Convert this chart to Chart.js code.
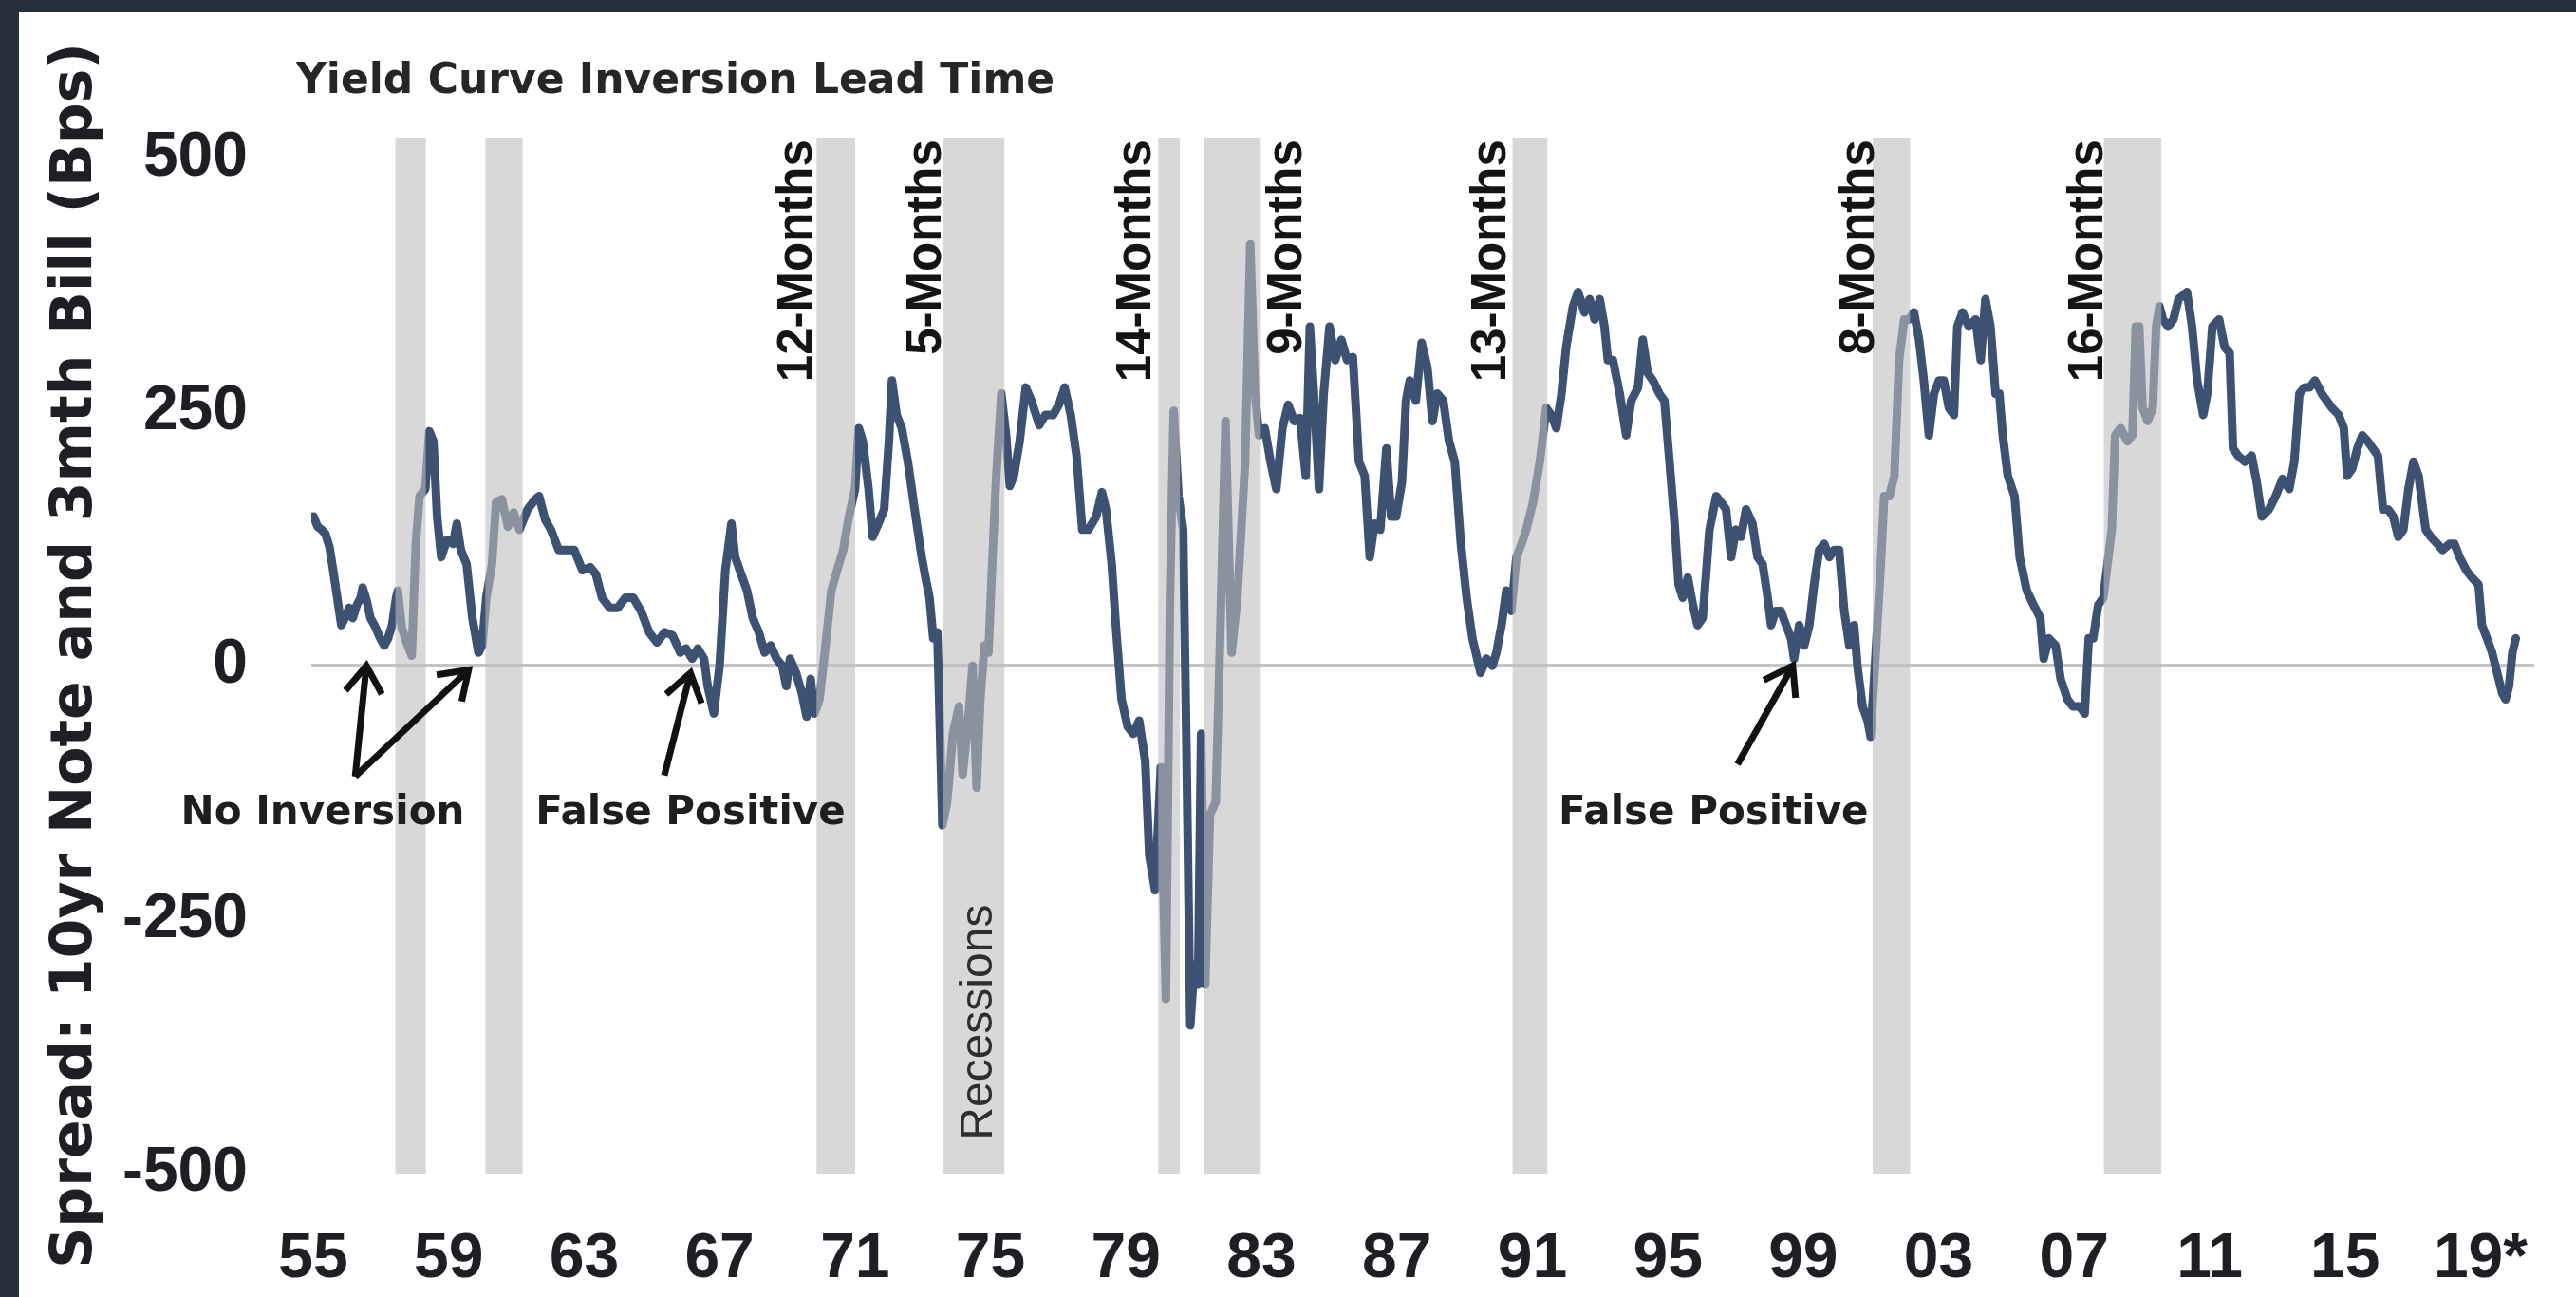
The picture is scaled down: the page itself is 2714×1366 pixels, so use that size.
<!DOCTYPE html>
<html>
<head>
<meta charset="utf-8">
<script src="https://cdn.jsdelivr.net/npm/chart.js@4.4.1/dist/chart.umd.min.js"></script>
<style>
html,body{margin:0;padding:0;width:2714px;height:1366px;overflow:hidden;background:#26303b;}
#panel{position:absolute;left:20px;top:13px;width:2694px;height:1353px;background:#ffffff;}
#c{position:absolute;left:0;top:0;}
</style>
</head>
<body>
<div id="panel"></div>
<canvas id="c" width="2714" height="1366"></canvas>
<script>
// ---------- DATA ----------
const dates = [
1955.01,1955.13,1955.25,1955.36,1955.48,1955.59,1955.71,1955.83,1955.94,1956.06,1956.17,1956.29,1956.40,1956.46,1956.58,1956.69,1956.81,1956.98,
1957.10,1957.21,1957.33,1957.45,1957.50,1957.62,1957.79,1957.91,1958.03,1958.14,1958.31,1958.43,1958.55,1958.66,1958.78,1958.95,1959.13,1959.24,
1959.36,1959.53,1959.70,1959.88,1959.99,1960.11,1960.28,1960.40,1960.57,1960.75,1960.92,1961.09,1961.33,1961.56,1961.67,1961.85,1962.02,1962.25,
1962.48,1962.71,1962.95,1963.18,1963.35,1963.53,1963.76,1963.99,1964.22,1964.45,1964.68,1964.92,1965.15,1965.38,1965.61,1965.84,1966.01,1966.19,
1966.36,1966.54,1966.65,1966.83,1967.00,1967.17,1967.35,1967.46,1967.64,1967.81,1967.98,1968.16,1968.33,1968.51,1968.68,1968.85,1968.97,1969.08,
1969.26,1969.43,1969.57,1969.69,1969.80,1969.95,1970.13,1970.30,1970.47,1970.65,1970.82,1971.00,1971.11,1971.23,1971.40,1971.52,1971.69,1971.86,
1972.00,1972.09,1972.23,1972.38,1972.56,1972.73,
1972.79,1972.97,1973.08,1973.20,1973.31,1973.43,1973.49,1973.58,1973.72,1973.89,1974.07,1974.18,1974.36,1974.47,1974.59,1974.70,1974.82,1974.94,
1975.05,1975.17,1975.32,1975.46,1975.57,1975.69,1975.86,1976.04,1976.21,1976.44,1976.62,1976.85,1977.02,1977.19,1977.37,1977.54,1977.71,1977.89,
1978.12,1978.29,1978.41,1978.58,1978.70,1978.87,1979.05,1979.22,1979.39,1979.57,1979.69,1979.86,1980.03,1980.18,1980.30,1980.41,1980.55,1980.69,
1980.78,1980.90,1981.02,1981.13,1981.22,1981.34,1981.48,1981.65,1981.77,1981.94,1982.12,1982.29,1982.52,1982.67,1982.81,1982.93,1983.10,1983.27,
1983.44,1983.62,1983.79,1983.97,1984.14,1984.31,1984.43,1984.55,1984.70,1984.84,1985.01,1985.18,1985.36,1985.53,1985.70,1985.88,1986.05,1986.20,
1986.34,1986.51,1986.69,1986.83,1986.98,1987.15,1987.27,1987.38,1987.56,1987.73,1987.90,1988.05,1988.19,1988.37,1988.54,1988.71,1988.89,1989.06,
1989.23,1989.47,1989.64,1989.82,
1989.94,1990.09,1990.23,1990.38,1990.53,1990.68,1990.82,1991.02,1991.22,1991.41,1991.56,1991.71,1991.86,1992.00,1992.20,1992.35,1992.54,1992.69,
1992.84,1992.99,1993.13,1993.23,1993.38,1993.58,1993.77,1993.92,1994.12,1994.26,1994.41,1994.56,1994.75,1994.90,1995.05,1995.20,1995.32,1995.44,
1995.59,1995.74,1995.88,1996.03,1996.23,1996.43,1996.57,1996.72,1996.87,1997.01,1997.16,1997.31,1997.50,1997.65,1997.80,1997.95,1998.05,1998.19,
1998.34,1998.49,1998.64,1998.73,1998.88,1999.03,1999.18,1999.32,1999.47,1999.62,1999.77,1999.91,2000.06,2000.21,2000.36,2000.50,2000.60,2000.75,
2000.90,2000.99,2001.14,2001.29,2001.39,2001.54,2001.69,2001.83,2001.98,2002.12,2002.27,2002.42,2002.56,2002.71,2002.86,2003.01,2003.15,2003.30,
2003.45,2003.55,2003.70,2003.89,2004.09,2004.24,2004.38,2004.53,2004.68,
2004.79,2004.89,2005.04,2005.24,2005.39,2005.60,2005.80,2006.00,2006.10,2006.25,2006.45,2006.60,2006.80,2006.96,2007.16,2007.31,2007.43,2007.56,
2007.71,2007.86,2008.01,2008.11,2008.21,2008.37,2008.57,2008.72,2008.82,2008.92,2009.02,2009.17,2009.32,2009.42,2009.52,2009.62,2009.77,2009.93,
2010.08,2010.33,2010.48,2010.63,2010.81,2010.93,2011.08,2011.28,2011.44,2011.59,2011.69,2011.84,2012.04,2012.24,2012.39,2012.54,2012.75,2012.95,
2013.15,2013.35,2013.50,2013.65,2013.80,2013.95,2014.11,2014.31,2014.46,2014.61,2014.81,2014.96,2015.06,2015.21,2015.36,2015.51,2015.67,2015.82,
2015.97,2016.12,2016.27,2016.42,2016.57,2016.72,2016.87,2017.02,2017.17,2017.38,2017.53,2017.73,2017.88,2018.08,2018.23,2018.38,2018.58,2018.74,
2018.94,2019.04,2019.19,2019.34,2019.49,2019.64,2019.74,2019.84,2019.94,2020.04
];
const spread = [
147,137,134,130,117,94,67,40,47,57,47,60,67,77,64,47,40,27,
20,27,40,67,74,37,20,10,120,167,174,231,221,147,107,124,120,140,
114,100,47,13,20,67,100,161,164,137,151,134,154,164,167,144,134,114,
114,114,94,97,90,67,57,57,67,67,54,33,23,33,30,13,17,7,
17,7,-20,-47,0,94,140,107,90,74,47,33,13,20,7,0,-20,7,
-7,-27,-50,-13,-47,-33,20,74,94,114,147,174,234,221,174,127,140,154,
221,281,247,234,201,161,
147,107,87,67,27,33,-40,-157,-134,-67,-40,-107,-47,0,-120,-33,20,13,
100,187,268,227,177,187,221,274,261,237,247,247,257,274,247,207,134,134,
147,171,154,100,40,-33,-60,-67,-54,-94,-187,-221,-100,-328,67,251,167,134,
-67,-354,-294,-314,-67,-314,-147,-134,13,241,13,67,201,415,268,227,234,201,
174,234,257,241,244,187,334,268,174,268,334,301,321,301,304,201,187,107,
140,134,214,147,147,181,261,281,261,318,294,241,268,261,221,201,120,67,
27,-7,7,0,
13,40,74,54,107,120,134,161,201,254,247,234,268,314,354,368,348,361,
341,361,334,301,301,268,227,261,274,321,288,281,268,261,201,140,80,67,
87,60,40,47,134,167,161,154,107,134,127,154,140,107,100,67,40,54,
54,40,27,7,40,20,40,80,114,120,107,114,114,54,20,40,0,-40,
-54,-70,13,100,167,167,187,301,341,341,348,321,281,227,268,281,281,254,
247,334,348,334,341,301,361,334,268,
268,227,187,167,107,74,60,47,7,27,20,-13,-33,-40,-40,-47,27,27,
60,67,107,134,227,234,221,227,334,334,254,241,254,334,354,341,334,341,
361,368,334,281,247,268,334,341,314,308,214,207,201,207,181,147,154,167,
184,174,201,268,274,274,281,268,261,254,247,234,187,194,214,227,221,214,
207,154,154,147,127,134,174,201,187,134,127,120,114,120,120,107,94,87,
80,40,27,13,-7,-27,-33,-20,13,27
];
// recessions (decimal years)
const recStart = [1957.42, 1960.08, 1969.86, 1973.60, 1979.95, 1981.31, 1990.41, 2001.05, 2007.87];
const recEnd   = [1958.33, 1961.19, 1971.01, 1975.42, 1980.60, 1982.99, 1991.45, 2002.16, 2009.58];
// axes
const xTickYears  = [1955,1959,1963,1967,1971,1975,1979,1983,1987,1991,1995,1999,2003,2007,2011,2015,2019];
const xTickLabels = ['55','59','63','67','71','75','79','83','87','91','95','99','03','07','11','15','19*'];
const yTickValues = [-500,-250,0,250,500];
// lead-time labels
const leadLabels = ['12-Months','5-Months','14-Months','9-Months','13-Months','8-Months','16-Months'];
const leadLabelX = [1969.72, 1973.54, 1979.73, 1984.19, 1990.21, 2001.08, 2007.82];
// notes and arrows
const noteTexts = ['No Inversion','False Positive','False Positive'];
const noteX = [1955.28, 1966.14, 1996.35];
const noteY = [-146, -146, -146];
const arrowTailX = [1956.24, 1956.24, 1965.37, 1997.06];
const arrowTailY = [-109, -109, -108, -97];
const arrowTipX  = [1956.57, 1959.59, 1966.14, 1998.69];
const arrowTipY  = [0, -4, -7, 0];

// ---------- CHART ----------
const Y_MIN = -500, Y_MAX = 520;
const X_MIN = 1954.945, X_MAX = 2020.585;

const recessionSets = recStart.map((s, i) => ({
  type: 'line',
  label: 'Recession ' + (i + 1),
  data: [{x: s, y: Y_MAX}, {x: recEnd[i], y: Y_MAX}],
  borderWidth: 0,
  pointRadius: 0,
  backgroundColor: 'rgba(190,190,190,0.6)',
  fill: {value: Y_MIN},
  order: 0
}));

const annot = {
  id: 'annot',
  afterDatasetsDraw(chart) {
    const {ctx, scales: {x, y}} = chart;
    ctx.save();
    // chart title
    ctx.fillStyle = '#262626';
    ctx.font = 'bold 44px "DejaVu Sans"';
    ctx.textAlign = 'left';
    ctx.textBaseline = 'middle';
    ctx.fillText('Yield Curve Inversion Lead Time', 312, 87);

    // lead-time labels (rotated)
    ctx.fillStyle = '#141414';
    ctx.font = 'bold 51px "Liberation Sans"';
    ctx.textAlign = 'right';
    ctx.textBaseline = 'alphabetic';
    leadLabels.forEach((t, i) => {
      ctx.save();
      ctx.translate(x.getPixelForValue(leadLabelX[i]), y.getPixelForValue(518));
      ctx.rotate(-Math.PI / 2);
      ctx.fillText(t, 0, 0);
      ctx.restore();
    });

    // "Recessions"
    ctx.fillStyle = '#2e2e2e';
    ctx.font = '48px "Liberation Sans"';
    ctx.textAlign = 'left';
    ctx.save();
    ctx.translate(x.getPixelForValue(1975.05), y.getPixelForValue(-467));
    ctx.rotate(-Math.PI / 2);
    ctx.fillText('Recessions', 0, 0);
    ctx.restore();

    // notes
    ctx.fillStyle = '#1e1e1e';
    ctx.font = 'bold 42px "DejaVu Sans"';
    ctx.textAlign = 'center';
    ctx.textBaseline = 'middle';
    noteTexts.forEach((t, i) => ctx.fillText(t, x.getPixelForValue(noteX[i]), y.getPixelForValue(noteY[i])));

    // arrows
    ctx.strokeStyle = '#111111';
    ctx.lineWidth = 7;
    ctx.lineCap = 'butt';
    ctx.lineJoin = 'miter';
    arrowTipX.forEach((tx, i) => {
      const x1 = x.getPixelForValue(arrowTailX[i]), y1 = y.getPixelForValue(arrowTailY[i]);
      const x2 = x.getPixelForValue(tx), y2 = y.getPixelForValue(arrowTipY[i]);
      ctx.beginPath(); ctx.moveTo(x1, y1); ctx.lineTo(x2, y2); ctx.stroke();
      const a = Math.atan2(y2 - y1, x2 - x1), L = 34, w = 0.6;
      ctx.beginPath();
      ctx.moveTo(x2 - L * Math.cos(a - w), y2 - L * Math.sin(a - w));
      ctx.lineTo(x2, y2);
      ctx.lineTo(x2 - L * Math.cos(a + w), y2 - L * Math.sin(a + w));
      ctx.stroke();
    });
    ctx.restore();
  }
};

new Chart(document.getElementById('c'), {
  type: 'line',
  data: {
    datasets: [
      ...recessionSets,
      {
        label: 'Spread: 10yr Note and 3mth Bill (Bps)',
        data: dates.map((d, i) => ({x: d, y: spread[i]})),
        borderColor: '#3d5273',
        borderWidth: 9,
        pointRadius: 0,
        tension: 0,
        fill: false,
        borderJoinStyle: 'round',
        borderCapStyle: 'round',
        order: 1
      }
    ]
  },
  options: {
    responsive: false,
    devicePixelRatio: 1,
    animation: false,
    events: [],
    layout: {padding: {top: 145, right: 0, bottom: 0, left: 0}},
    plugins: {legend: {display: false}, tooltip: {enabled: false}, title: {display: false}},
    scales: {
      x: {
        type: 'linear',
        min: X_MIN, max: X_MAX,
        grid: {display: false, drawTicks: false},
        border: {display: false},
        afterBuildTicks: s => { s.ticks = xTickYears.map(v => ({value: v})); },
        afterFit: s => { s.height = 130; },
        ticks: {
          autoSkip: false, maxRotation: 0, padding: 51,
          color: '#1d1f24',
          font: {family: '"Liberation Sans", Arial, sans-serif', size: 66, weight: 'bold'},
          callback: (v) => { const k = xTickYears.indexOf(v); return k >= 0 ? xTickLabels[k] : ''; }
        }
      },
      y: {
        type: 'linear',
        min: Y_MIN, max: Y_MAX,
        grid: {
          display: true, drawTicks: false, lineWidth: 4,
          color: c => (c.tick && c.tick.value === 0) ? '#c4c4c4' : 'rgba(0,0,0,0)'
        },
        border: {display: false},
        afterBuildTicks: s => { s.ticks = yTickValues.map(v => ({value: v})); },
        afterFit: s => { s.width = 328; },
        ticks: {
          padding: 67,
          color: '#1d1f24',
          font: {family: '"Liberation Sans", Arial, sans-serif', size: 66, weight: 'bold'},
          callback: v => String(v)
        },
        title: {
          display: true,
          text: 'Spread: 10yr Note and 3mth Bill (Bps)',
          color: '#1d1f24',
          font: {family: '"DejaVu Sans"', size: 60, weight: 'bold'},
          padding: {top: 44, bottom: 0}
        }
      }
    }
  },
  plugins: [annot]
});
</script>
</body>
</html>
